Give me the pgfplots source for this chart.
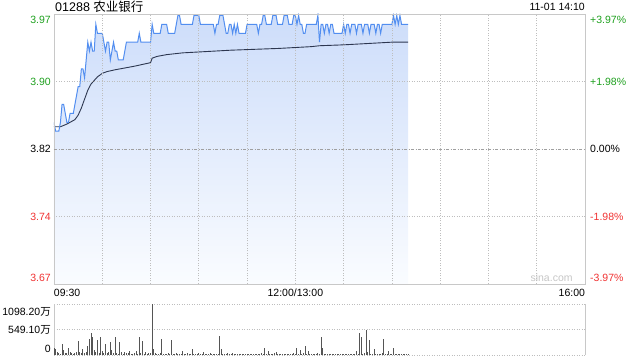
\documentclass[border=0pt]{standalone}
\usepackage{fontspec}
\setmainfont{Liberation Sans}
\newfontfamily\cjk{Noto Sans CJK SC}
\usepackage{pgfplots}
\usepackage{pgfplotstable}
\pgfplotsset{compat=1.18}
\definecolor{pline}{RGB}{82,142,240}
\definecolor{avgline}{RGB}{45,55,80}
\definecolor{upg}{RGB}{30,160,30}
\definecolor{dnr}{RGB}{240,50,50}
\definecolor{gridc}{RGB}{190,190,190}
\definecolor{framec}{RGB}{200,200,200}
\definecolor{filltop}{RGB}{205,221,250}
\definecolor{fillbot}{RGB}{250,252,255}
\definecolor{volc}{RGB}{85,85,85}
\newcommand\Lm[1]{\raisebox{-3.76bp}[0pt][0pt]{#1}}
\newcommand\Lt[1]{\raisebox{-9.76bp}[0pt][0pt]{#1}}
\newcommand\Lb[1]{\raisebox{2.24bp}[0pt][0pt]{#1}}
\newcommand\fs{\fontsize{10.5bp}{12bp}\selectfont}

\pgfplotstableread[row sep=\\]{
m p\\
0 3.85\\ 1 3.84\\ 3 3.84\\ 4 3.85\\ 5 3.87\\ 6 3.87\\ 7 3.86\\ 8 3.85\\ 9 3.85\\ 10 3.86\\ 12 3.86\\
13 3.87\\ 14 3.88\\ 15 3.89\\ 16 3.89\\ 17 3.91\\ 18 3.91\\ 19 3.90\\ 20 3.92\\ 21 3.94\\ 22 3.93\\
23 3.94\\ 24 3.93\\ 25 3.93\\ 26 3.96\\ 27 3.95\\ 30 3.95\\ 31 3.94\\ 32 3.93\\ 33 3.94\\ 34 3.94\\
35 3.92\\ 36 3.93\\ 37 3.94\\ 38 3.93\\ 39 3.93\\ 40 3.92\\ 43 3.92\\ 44 3.93\\ 45 3.94\\ 52 3.94\\
53 3.95\\ 54 3.94\\ 60 3.94\\ 61 3.96\\ 62 3.95\\ 66 3.95\\ 67 3.96\\ 70 3.96\\ 71 3.95\\ 75 3.95\\
76 3.96\\ 77 3.97\\ 78 3.97\\ 79 3.96\\ 86 3.96\\ 87 3.97\\ 90 3.97\\ 91 3.96\\ 99 3.96\\ 100 3.95\\
101 3.96\\ 102 3.96\\ 103 3.97\\ 105 3.97\\ 106 3.96\\ 107 3.95\\ 108 3.95\\ 109 3.96\\ 110 3.96\\
111 3.95\\ 112 3.96\\ 113 3.95\\ 114 3.96\\ 115 3.95\\ 119 3.95\\ 120 3.96\\ 126 3.96\\ 127 3.95\\
128 3.96\\ 129 3.96\\ 130 3.97\\ 131 3.97\\ 132 3.96\\ 135 3.96\\ 136 3.97\\ 138 3.97\\ 139 3.96\\
142 3.96\\ 143 3.97\\ 145 3.97\\ 146 3.96\\ 148 3.96\\ 149 3.97\\ 150 3.97\\ 151 3.96\\ 152 3.97\\
153 3.96\\ 154 3.96\\ 155 3.95\\ 156 3.95\\ 157 3.96\\ 163 3.96\\ 164 3.97\\ 165 3.94\\ 166 3.96\\
167 3.96\\ 168 3.95\\ 169 3.96\\ 170 3.96\\ 171 3.95\\ 172 3.96\\ 173 3.96\\ 174 3.95\\ 179 3.95\\
180 3.96\\ 181 3.95\\ 182 3.96\\ 183 3.96\\ 184 3.95\\ 185 3.96\\ 187 3.96\\ 188 3.95\\ 189 3.96\\
191 3.96\\ 192 3.95\\ 193 3.96\\ 195 3.96\\ 196 3.95\\ 197 3.96\\ 199 3.96\\ 200 3.95\\ 201 3.96\\
202 3.96\\ 203 3.95\\ 204 3.96\\ 210 3.96\\ 211 3.97\\ 212 3.96\\ 213 3.97\\ 214 3.96\\ 215 3.97\\
216 3.96\\ 220 3.96\\
}\price

\pgfplotstableread[row sep=\\]{
m a\\
0 3.845\\ 4 3.845\\ 8 3.848\\ 10 3.850\\ 13 3.853\\ 15 3.858\\ 17 3.866\\ 19 3.876\\ 21 3.886\\
23 3.893\\ 25 3.897\\ 27 3.901\\ 30 3.905\\ 33 3.907\\ 38 3.909\\ 44 3.911\\ 50 3.913\\ 55 3.915\\
60 3.917\\ 61 3.922\\ 64 3.924\\ 70 3.926\\ 80 3.928\\ 90 3.929\\ 100 3.930\\ 110 3.931\\ 125 3.932\\
140 3.933\\ 150 3.934\\ 160 3.935\\ 165 3.936\\ 180 3.937\\ 190 3.938\\ 200 3.939\\ 210 3.940\\ 220 3.940\\
}\avg

\pgfplotstableread[row sep=\\]{
m v\\
0 160\\ 1 120\\ 2 60\\ 3 40\\ 4 30\\ 5 237\\ 6 107\\ 7 50\\ 8 40\\ 9 143\\ 10 60\\ 11 40\\ 12 30\\ 13 45\\
14 60\\ 15 309\\ 16 60\\ 17 40\\ 18 128\\ 19 50\\ 20 70\\ 21 194\\ 22 345\\ 23 481\\ 24 395\\ 25 107\\
26 60\\ 27 323\\ 28 40\\ 29 395\\ 30 93\\ 31 50\\ 32 237\\ 33 40\\ 34 60\\ 35 287\\ 36 107\\ 37 40\\
38 395\\ 39 50\\ 40 30\\ 41 287\\ 42 60\\ 43 30\\ 44 70\\ 45 40\\ 46 50\\ 47 80\\ 48 30\\ 49 20\\ 50 40\\
51 80\\ 52 30\\ 53 395\\ 54 40\\ 55 302\\ 56 30\\ 57 60\\ 58 20\\ 59 40\\ 60 50\\ 61 1092\\ 62 120\\
63 40\\ 64 30\\ 65 20\\ 66 40\\ 67 345\\ 68 30\\ 69 20\\ 70 30\\ 71 40\\ 72 20\\ 73 323\\ 74 30\\ 75 20\\
76 40\\ 77 30\\ 78 20\\ 79 30\\ 80 86\\ 81 30\\ 82 20\\ 83 40\\ 84 30\\ 85 20\\ 86 129\\ 87 30\\ 88 20\\
89 30\\ 90 40\\ 91 20\\ 92 30\\ 93 60\\ 94 20\\ 95 30\\ 96 20\\ 97 40\\ 98 20\\ 99 30\\ 100 20\\ 101 30\\
102 20\\ 103 409\\ 104 129\\ 105 30\\ 106 20\\ 107 30\\ 108 40\\ 109 20\\ 110 30\\ 111 40\\ 112 30\\
113 20\\ 114 30\\ 115 20\\ 116 30\\ 117 20\\ 118 30\\ 119 20\\ 120 30\\ 121 20\\ 122 30\\ 123 20\\
124 30\\ 125 20\\ 126 30\\ 127 20\\ 128 30\\ 129 40\\ 130 20\\ 131 158\\ 132 30\\ 133 93\\ 134 20\\
135 30\\ 136 20\\ 137 40\\ 138 72\\ 139 20\\ 140 30\\ 141 20\\ 142 30\\ 143 20\\ 144 30\\ 145 20\\
146 30\\ 147 20\\ 148 30\\ 149 40\\ 150 20\\ 151 158\\ 152 30\\ 153 108\\ 154 20\\ 155 40\\ 156 201\\
157 30\\ 158 93\\ 159 20\\ 160 30\\ 161 20\\ 162 30\\ 163 20\\ 164 40\\ 165 30\\ 166 395\\ 167 151\\
168 30\\ 169 20\\ 170 30\\ 171 20\\ 172 30\\ 173 20\\ 174 30\\ 175 20\\ 176 30\\ 177 20\\ 178 30\\
179 20\\ 180 30\\ 181 20\\ 182 30\\ 183 20\\ 184 30\\ 185 20\\ 186 30\\ 187 20\\ 188 86\\ 189 30\\
190 481\\ 191 395\\ 192 30\\ 193 40\\ 194 539\\ 195 60\\ 196 323\\ 197 30\\ 198 20\\ 199 129\\ 200 30\\
201 20\\ 202 30\\ 203 20\\ 204 40\\ 205 345\\ 206 30\\ 207 20\\ 208 93\\ 209 30\\ 210 20\\ 211 158\\
212 30\\ 213 20\\ 214 30\\ 215 20\\ 216 30\\ 217 20\\ 218 30\\ 219 20\\ 220 30\\
}\vol

\begin{document}
\begin{tikzpicture}
\useasboundingbox (0,0) rectangle (640bp,360bp);
\begin{axis}[
  name=main, at={(54bp,76bp)}, anchor=south west, scale only axis,
  width=531bp, height=270bp,
  xmin=0, xmax=330, ymin=3.66835, ymax=3.97165,
  axis on top,
  xtick={0,30,...,330},
  xticklabels={\makebox[0pt][l]{09:30},,,,,12:00/13:00,,,,,,\makebox[0pt][r]{16:00}},
  ytick={3.66835,3.744175,3.895825,3.97165},
  yticklabels={\Lb{\textcolor{dnr}{3.67}},\Lm{\textcolor{dnr}{3.74}},\Lm{\textcolor{upg}{3.90}},\Lt{\textcolor{upg}{3.97}}},
  extra y ticks={3.82}, extra y tick labels={\Lm{3.82}},
  extra y tick style={grid=major, grid style={dash pattern=on 3bp off 1.5bp on 1bp off 1.5bp, color=gray!75}},
  grid=major, grid style={gridc, dash pattern=on 1bp off 1.5bp, line width=0.7bp},
  major tick length=0pt,
  axis line style={framec, line width=0.8bp},
  tick label style={font=\fs, inner sep=0pt},
  yticklabel style={anchor=east, xshift=-3bp},
  xticklabel style={anchor=base, yshift=-13bp},
]
\addplot[draw=none, top color=filltop, bottom color=fillbot] table[x=m,y=p]{\price} |- (axis cs:0,3.66835) -- cycle;
\addplot[avgline, line width=0.9bp] table[x=m,y=a]{\avg};
\addplot[pline, line width=1bp] table[x=m,y=p]{\price};
\node[anchor=base east, text=gray!45, font=\fs, inner sep=0pt] at (rel axis cs:0.977,0.008) {sina.com};
\end{axis}
\begin{axis}[
  at={(54bp,76bp)}, anchor=south west, scale only axis,
  width=531bp, height=270bp,
  xmin=0, xmax=330, ymin=3.66835, ymax=3.97165,
  hide x axis, axis line style={draw=none}, major tick length=0pt,
  yticklabel pos=right,
  ytick={3.66835,3.744175,3.82,3.895825,3.97165},
  yticklabels={\Lb{\textcolor{dnr}{-3.97\%}},\Lm{\textcolor{dnr}{-1.98\%}},\Lm{0.00\%},\Lm{\textcolor{upg}{+1.98\%}},\Lt{\textcolor{upg}{+3.97\%}}},
  yticklabel style={anchor=west, xshift=5bp, inner sep=0pt, font=\fs},
]
\end{axis}
\begin{axis}[
  at={(54bp,5bp)}, anchor=south west, scale only axis,
  width=531bp, height=51bp,
  xmin=0, xmax=330, ymin=0, ymax=1098.2,
  axis x line=none, axis y line=box,
  ytick={0,549.1,1098.2},
  yticklabels={\raisebox{2.54bp}[0pt][0pt]{0},\Lm{549.10{\cjk 万}},\raisebox{-11.76bp}[0pt][0pt]{1098.20{\cjk 万}}},
  ymajorgrids, grid style={gridc, dash pattern=on 1bp off 1.5bp, line width=0.7bp},
  major tick length=0pt,
  axis line style={framec, line width=0.8bp},
  yticklabel style={anchor=east, xshift=-3bp, inner sep=0pt, font=\fs},
]
\addplot[ycomb, volc, line width=1bp, no marks] table[x=m,y=v]{\vol};
\end{axis}
\node[anchor=base west, inner sep=0pt, font=\fontsize{12.5bp}{14bp}\selectfont] at ([xshift=1bp,yshift=2.5bp]main.north west) {01288 {\cjk 农业银行}};
\node[anchor=base east, inner sep=0pt, font=\fs] at ([yshift=3bp]main.north east) {11-01 14:10};
\end{tikzpicture}
\end{document}
